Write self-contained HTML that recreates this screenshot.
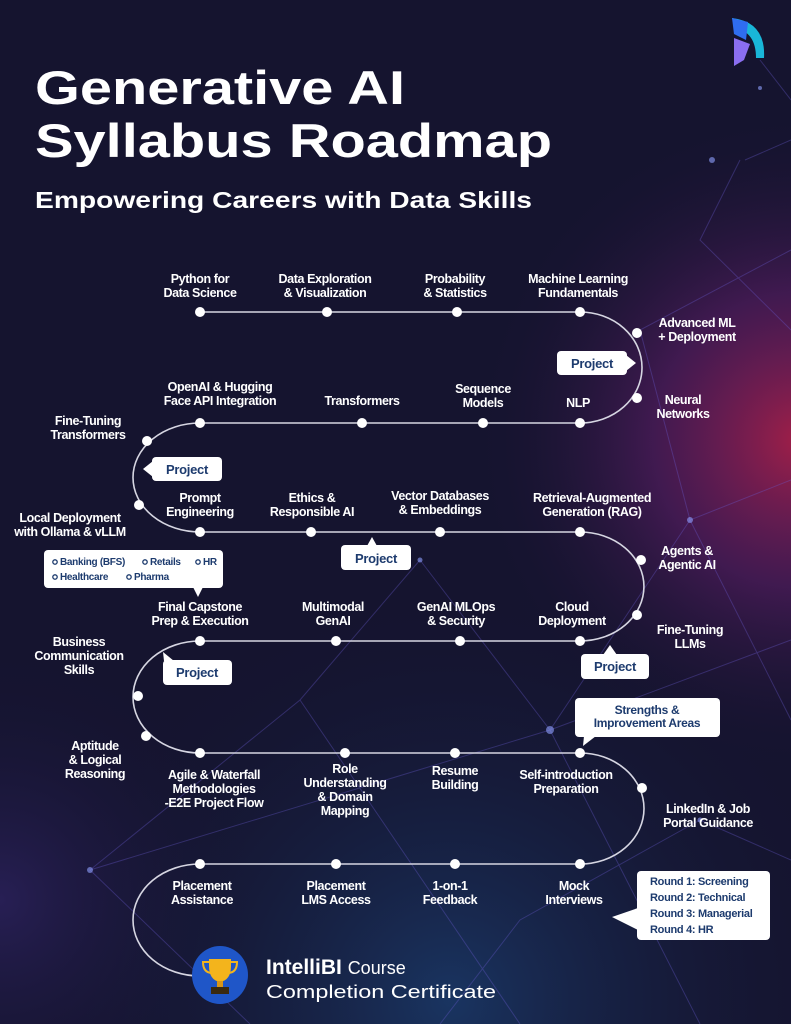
<!DOCTYPE html>
<html><head><meta charset="utf-8"><style>
html,body{margin:0;padding:0;background:#14132f}
svg{display:block}
text{font-family:"Liberation Sans",sans-serif;font-weight:bold}
.l{fill:#fff;font-size:12.5px;text-anchor:middle;letter-spacing:-0.4px}
.c{fill:#1d3b6e;font-size:13px;text-anchor:middle;letter-spacing:-0.3px}
.s{fill:#1d3b6e;font-size:10px;letter-spacing:-0.3px}
</style></head><body>
<svg width="791" height="1024" viewBox="0 0 791 1024" xmlns="http://www.w3.org/2000/svg">
<defs>
<radialGradient id="g1" cx="800" cy="440" r="330" gradientUnits="userSpaceOnUse">
<stop offset="0" stop-color="#b0204a" stop-opacity=".9"/><stop offset=".45" stop-color="#6a1f70" stop-opacity=".5"/><stop offset="1" stop-color="#14132f" stop-opacity="0"/></radialGradient>
<radialGradient id="g2" cx="450" cy="1000" r="420" gradientUnits="userSpaceOnUse">
<stop offset="0" stop-color="#1d4f8a" stop-opacity=".55"/><stop offset="1" stop-color="#14132f" stop-opacity="0"/></radialGradient>
<radialGradient id="g3" cx="0" cy="900" r="260" gradientUnits="userSpaceOnUse">
<stop offset="0" stop-color="#3a2a7a" stop-opacity=".5"/><stop offset="1" stop-color="#14132f" stop-opacity="0"/></radialGradient>
</defs>
<rect width="791" height="1024" fill="#15142f"/>
<rect width="791" height="1024" fill="url(#g1)"/>
<rect width="791" height="1024" fill="url(#g2)"/>
<rect width="791" height="1024" fill="url(#g3)"/>
<g stroke="#6b5bd0" stroke-opacity=".35" stroke-width="1" fill="none">
<path d="M550 730 L690 520 L791 480 M550 730 L791 640 M550 730 L420 560 M550 730 L90 870 M550 730 L700 1024 M690 520 L640 330 L791 250 M690 520 L791 720 M420 560 L300 700 L90 870 M90 870 L250 1024 M300 700 L520 1024 M700 820 L791 860 M700 820 L520 920 L440 1024 M760 60 L791 100 M745 160 L791 140 M740 160 L700 240 L791 330"/>
</g>
<g fill="#8fa0ff" fill-opacity=".6"><circle cx="550" cy="730" r="4"/><circle cx="690" cy="520" r="3"/><circle cx="90" cy="870" r="3"/><circle cx="420" cy="560" r="2.5"/><circle cx="700" cy="820" r="2.5"/><circle cx="712" cy="160" r="3"/><circle cx="760" cy="88" r="2"/></g>
<!-- logo -->
<path d="M732 18 Q766 22 764 58 L756 58 Q756 32 735 28 Z" fill="#19b6d8"/>
<path d="M732 18 L748 22 L746 40 L734 34 Z" fill="#2f6df0"/>
<path d="M734 38 L750 44 L744 60 L734 66 Z" fill="#8a6ef0"/>
<!-- titles -->
<text x="35" y="104" fill="#fff" font-size="47" textLength="370" lengthAdjust="spacingAndGlyphs">Generative AI</text>
<text x="35" y="157" fill="#fff" font-size="47" textLength="517" lengthAdjust="spacingAndGlyphs">Syllabus Roadmap</text>
<text x="35" y="208" fill="#fff" font-size="23" textLength="497" lengthAdjust="spacingAndGlyphs">Empowering Careers with Data Skills</text>
<!-- path -->
<g stroke="#d6d6e2" stroke-width="1.6" fill="none">
<path d="M200 312 H580 A62 55.5 0 0 1 580 423 H200 A67 54.5 0 0 0 200 532 H580 A64 54.5 0 0 1 580 641 H200 A67 56 0 0 0 200 753 H580 A64 55.5 0 0 1 580 864 H200 A67 56 0 0 0 200 976"/>
</g>
<g fill="#fff">
<circle cx="200" cy="312" r="5"/><circle cx="327" cy="312" r="5"/><circle cx="457" cy="312" r="5"/><circle cx="580" cy="312" r="5"/>
<circle cx="637" cy="333" r="5"/><circle cx="637" cy="398" r="5"/>
<circle cx="200" cy="423" r="5"/><circle cx="362" cy="423" r="5"/><circle cx="483" cy="423" r="5"/><circle cx="580" cy="423" r="5"/>
<circle cx="147" cy="441" r="5"/><circle cx="139" cy="505" r="5"/>
<circle cx="200" cy="532" r="5"/><circle cx="311" cy="532" r="5"/><circle cx="440" cy="532" r="5"/><circle cx="580" cy="532" r="5"/>
<circle cx="641" cy="560" r="5"/><circle cx="637" cy="615" r="5"/>
<circle cx="200" cy="641" r="5"/><circle cx="336" cy="641" r="5"/><circle cx="460" cy="641" r="5"/><circle cx="580" cy="641" r="5"/>
<circle cx="138" cy="696" r="5"/><circle cx="146" cy="736" r="5"/>
<circle cx="200" cy="753" r="5"/><circle cx="345" cy="753" r="5"/><circle cx="455" cy="753" r="5"/><circle cx="580" cy="753" r="5"/>
<circle cx="642" cy="788" r="5"/>
<circle cx="200" cy="864" r="5"/><circle cx="336" cy="864" r="5"/><circle cx="455" cy="864" r="5"/><circle cx="580" cy="864" r="5"/>
</g>
<!-- labels -->
<text class="l" x="200" y="283">Python for</text><text class="l" x="200" y="297">Data Science</text>
<text class="l" x="325" y="283">Data Exploration</text><text class="l" x="325" y="297">&amp; Visualization</text>
<text class="l" x="455" y="283">Probability</text><text class="l" x="455" y="297">&amp; Statistics</text>
<text class="l" x="578" y="283">Machine Learning</text><text class="l" x="578" y="297">Fundamentals</text>
<text class="l" x="697" y="327">Advanced ML</text><text class="l" x="697" y="341">+ Deployment</text>
<text class="l" x="220" y="391">OpenAI &amp; Hugging</text><text class="l" x="220" y="405">Face API Integration</text>
<text class="l" x="362" y="405">Transformers</text>
<text class="l" x="483" y="393">Sequence</text><text class="l" x="483" y="407">Models</text>
<text class="l" x="578" y="407">NLP</text>
<text class="l" x="683" y="404">Neural</text><text class="l" x="683" y="418">Networks</text>
<text class="l" x="88" y="425">Fine-Tuning</text><text class="l" x="88" y="439">Transformers</text>
<text class="l" x="200" y="502">Prompt</text><text class="l" x="200" y="516">Engineering</text>
<text class="l" x="312" y="502">Ethics &amp;</text><text class="l" x="312" y="516">Responsible AI</text>
<text class="l" x="440" y="500">Vector Databases</text><text class="l" x="440" y="514">&amp; Embeddings</text>
<text class="l" x="592" y="502">Retrieval-Augmented</text><text class="l" x="592" y="516">Generation (RAG)</text>
<text class="l" x="70" y="522">Local Deployment</text><text class="l" x="70" y="536">with Ollama &amp; vLLM</text>
<text class="l" x="687" y="555">Agents &amp;</text><text class="l" x="687" y="569">Agentic AI</text>
<text class="l" x="200" y="611">Final Capstone</text><text class="l" x="200" y="625">Prep &amp; Execution</text>
<text class="l" x="333" y="611">Multimodal</text><text class="l" x="333" y="625">GenAI</text>
<text class="l" x="456" y="611">GenAI MLOps</text><text class="l" x="456" y="625">&amp; Security</text>
<text class="l" x="572" y="611">Cloud</text><text class="l" x="572" y="625">Deployment</text>
<text class="l" x="690" y="634">Fine-Tuning</text><text class="l" x="690" y="648">LLMs</text>
<text class="l" x="79" y="646">Business</text><text class="l" x="79" y="660">Communication</text><text class="l" x="79" y="674">Skills</text>
<text class="l" x="95" y="750">Aptitude</text><text class="l" x="95" y="764">&amp; Logical</text><text class="l" x="95" y="778">Reasoning</text>
<text class="l" x="214" y="779">Agile &amp; Waterfall</text><text class="l" x="214" y="793">Methodologies</text><text class="l" x="214" y="807">-E2E Project Flow</text>
<text class="l" x="345" y="773">Role</text><text class="l" x="345" y="787">Understanding</text><text class="l" x="345" y="801">&amp; Domain</text><text class="l" x="345" y="815">Mapping</text>
<text class="l" x="455" y="775">Resume</text><text class="l" x="455" y="789">Building</text>
<text class="l" x="566" y="779">Self-introduction</text><text class="l" x="566" y="793">Preparation</text>
<text class="l" x="708" y="813">LinkedIn &amp; Job</text><text class="l" x="708" y="827">Portal Guidance</text>
<text class="l" x="202" y="890">Placement</text><text class="l" x="202" y="904">Assistance</text>
<text class="l" x="336" y="890">Placement</text><text class="l" x="336" y="904">LMS Access</text>
<text class="l" x="450" y="890">1-on-1</text><text class="l" x="450" y="904">Feedback</text>
<text class="l" x="574" y="890">Mock</text><text class="l" x="574" y="904">Interviews</text>
<!-- callouts -->
<g fill="#fff">
<rect x="557" y="351" width="70" height="24" rx="4"/><path d="M626 355 L636 363 L626 371Z"/>
<rect x="152" y="457" width="70" height="24" rx="4"/><path d="M153 461 L143 469 L153 477Z"/>
<rect x="341" y="545" width="70" height="25" rx="4"/><path d="M367 546 L372 537 L377 546Z"/>
<rect x="44" y="550" width="179" height="38" rx="4"/><path d="M193 587 L198 597 L203 587Z"/>
<rect x="163" y="660" width="69" height="25" rx="4"/><path d="M164 661 L163 652 L174 661Z"/>
<rect x="581" y="654" width="68" height="25" rx="4"/><path d="M603 655 L610 645 L617 655Z"/>
<rect x="575" y="698" width="145" height="39" rx="4"/><path d="M584 736 L583 746 L596 736Z"/>
<rect x="637" y="871" width="133" height="69" rx="4"/><path d="M638 908 L612 917 L638 930Z"/>
</g>
<text class="c" x="592" y="368">Project</text>
<text class="c" x="187" y="474">Project</text>
<text class="c" x="376" y="563">Project</text>
<text class="c" x="197" y="677">Project</text>
<text class="c" x="615" y="671">Project</text>
<text class="c" x="647" y="714" style="font-size:12px">Strengths &amp;</text><text class="c" x="647" y="727" style="font-size:12px">Improvement Areas</text>
<g fill="none" stroke="#1d3b6e" stroke-width="1.3"><circle cx="55" cy="562" r="2.2"/><circle cx="145" cy="562" r="2.2"/><circle cx="198" cy="562" r="2.2"/><circle cx="55" cy="577" r="2.2"/><circle cx="129" cy="577" r="2.2"/></g>
<text class="s" x="60" y="565">Banking (BFS)</text><text class="s" x="150" y="565">Retails</text><text class="s" x="203" y="565">HR</text>
<text class="s" x="60" y="580">Healthcare</text><text class="s" x="134" y="580">Pharma</text>
<text class="s" x="650" y="885" style="font-size:11px">Round 1: Screening</text>
<text class="s" x="650" y="901" style="font-size:11px">Round 2: Technical</text>
<text class="s" x="650" y="917" style="font-size:11px">Round 3: Managerial</text>
<text class="s" x="650" y="933" style="font-size:11px">Round 4: HR</text>
<!-- trophy -->
<ellipse cx="220" cy="975" rx="28" ry="29" fill="#1f56c8"/>
<path d="M209 959 H231 V966 Q231 980 220 982 Q209 980 209 966 Z" fill="#f3b41c"/>
<path d="M209 962 H203 Q203 972 211 973 M231 962 H237 Q237 972 229 973" stroke="#f3b41c" stroke-width="2" fill="none"/>
<rect x="217" y="981" width="6" height="6" fill="#d8961a"/><rect x="211" y="987" width="18" height="7" fill="#3a2a10"/>
<text x="266" y="974" fill="#fff" font-size="21">IntelliBI <tspan font-weight="normal" font-size="18">Course</tspan></text>
<text x="266" y="998" fill="#fff" font-size="18" style="font-weight:normal" textLength="230" lengthAdjust="spacingAndGlyphs">Completion Certificate</text>
</svg>
</body></html>
